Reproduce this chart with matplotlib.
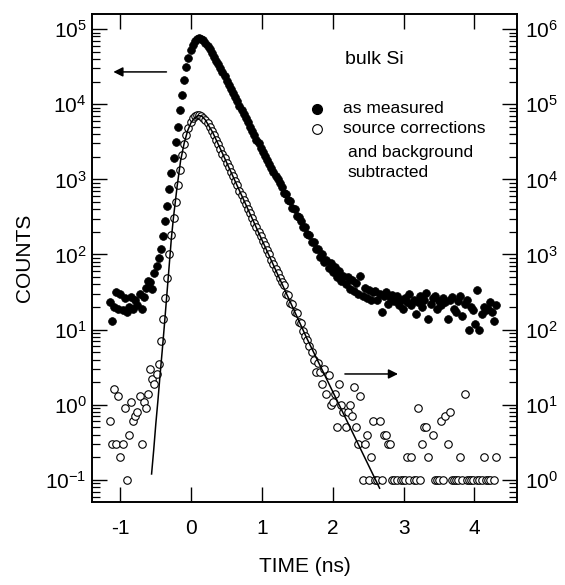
import numpy as np
import matplotlib
matplotlib.use('Agg')
import matplotlib.pyplot as plt

plt.rcParams['font.family'] = ['Liberation Sans', 'DejaVu Sans']
plt.rcParams['mathtext.fontset'] = 'custom'
plt.rcParams['mathtext.rm'] = 'Liberation Sans'

# time channels (ns), first channel and width
t_start = -1.15
t_step = 0.03

# "as measured" counts (left axis)
measured = [
    23, 13, 20, 32, 19, 30, 18, 26, 17, 20, 27, 19, 25, 21, 30, 19, 27, 36, 45, 43,
    35, 56, 71, 89, 120, 178, 282, 447, 741, 1200, 1905, 3162, 5012, 8318, 13180,
    20890, 30900, 41690, 52480, 61660, 69180, 74130, 75860, 74130, 70790, 66070,
    60260, 53700, 47860, 42660, 38020, 33880, 30200, 26920, 23440, 20420, 18200,
    15850, 14130, 12300, 10960, 9550, 8318, 7413, 6457, 5754, 5012, 4365, 3890,
    3388, 3020, 2630, 2344, 2042, 1820, 1622, 1413, 1259, 1122, 1000, 891, 794,
    661, 631, 525, 513, 417, 398, 324, 316, 275, 229, 229, 186, 182, 145, 148,
    117, 120, 93, 100, 79, 85, 66, 76, 58, 68, 50, 60, 44, 52, 40, 50, 35, 46,
    33, 42, 30, 52, 28, 36, 26, 34, 25, 32,
    33, 25, 30, 17, 28, 32, 22, 27, 29, 24, 28, 21, 25, 19, 26, 23, 30, 21, 25,
    16, 23, 28, 20, 25, 31, 14, 22, 26, 28, 19, 24, 21, 26, 23, 14, 25, 27, 19,
    17, 24, 28, 15, 22, 25, 10, 20, 18, 12, 34, 10, 16, 20, 18, 19, 23, 17, 13, 21,
]

# source corrections and background subtracted (right axis), 0 = not shown
corrected = [
    6, 3, 16, 3, 13, 2, 3, 9, 1, 4, 11, 6, 7, 8, 13, 3, 11, 9, 14,
    30, 22, 19, 26, 35, 70, 140, 260, 480, 1000, 1800, 3020, 5012, 8318, 13180,
    20890, 29510, 38900, 48980, 57540, 64570, 69180, 70790, 70790, 69180, 66070,
    61660, 56230, 50120, 44160, 38900, 33880, 29510, 25700, 21880, 19050, 16600,
    14450, 12590, 10960, 9550, 8318, 7079, 6166, 5370, 4677, 4074, 3548, 3090,
    2630, 2291, 1995, 1738, 1514, 1318, 1148, 1000, 851, 741, 646, 562, 490, 427,
    390, 300, 290, 225, 220, 170, 165, 128, 122, 95, 83, 72, 60, 50,
    40, 27, 36, 27, 19, 30, 14, 25, 10, 11, 14, 5, 19, 10, 8, 5, 8, 10, 7, 17,
    5, 3, 13, 1, 3, 4, 1, 2, 6, 1, 1, 6, 1, 4, 4, 3, 3, 1, 1, 1, 0, 1, 1, 1,
    2, 1, 2, 1, 1, 9, 1, 3, 5, 5, 2, 0, 4, 1, 1, 1, 6, 1, 7, 3, 8, 1, 1, 1, 1,
    2, 1, 14, 1, 1, 1, 1, 0, 1, 1, 1, 2, 1, 1, 1, 0, 1, 2,
]

# fitted curve (right axis)
fit_time = [-0.56, -0.53, -0.50, -0.47, -0.44, -0.41, -0.38, -0.35, -0.32,
            -0.28, -0.25, -0.20, -0.15, -0.10, -0.05, 0.00, 0.05, 0.10, 0.15,
            0.20, 0.30, 0.40, 1.63, 2.66]
fit_counts = [1.2, 2.5, 5.6, 11.5, 25, 52, 112, 251, 562, 1660, 3162, 7943,
              17780, 30200, 44670, 57540, 66070, 70790, 69180, 61660, 42660,
              26920, 77.6, 0.776]

t_meas = t_start + t_step * np.arange(len(measured))
t_corr = t_start + t_step * np.arange(len(corrected))
corr = np.array(corrected, dtype=float)
corr[corr <= 0] = np.nan

fig = plt.figure(figsize=(5.65, 5.85), dpi=100)
ax = fig.add_axes([0.163, 0.142, 0.752, 0.834])
ax2 = ax.twinx()

ylo, yhi = 10 ** -1.293, 10 ** 5.2
ax.set_yscale('log')
ax2.set_yscale('log')
ax.set_ylim(ylo, yhi)
ax2.set_ylim(ylo * 10, yhi * 10)
ax.set_xlim(-1.4, 4.6)

ax.plot(t_meas, measured, 'o', color='black', ms=5.6, mec='black', mew=0.5)
ax2.plot(t_corr, corr, 'o', mfc='white', mec='black', ms=5.4, mew=0.8)
ax2.plot(fit_time, fit_counts, '-', color='black', lw=1.1)

ax.set_xticks([-1, 0, 1, 2, 3, 4])
ax.set_xticklabels(['-1', '0', '1', '2', '3', '4'])
ax.tick_params(axis='x', which='major', direction='in', length=11, width=1,
               top=True, labelsize=15, pad=12)
ax.tick_params(axis='y', which='major', direction='in', length=11, width=1,
               right=False, labelsize=15, pad=4)
ax.tick_params(axis='y', which='minor', direction='in', length=5.5, width=0.9,
               right=False)
ax2.tick_params(axis='y', which='major', direction='in', length=11, width=1,
                left=False, labelsize=15, pad=6)
ax2.tick_params(axis='y', which='minor', direction='in', length=5.5, width=0.9,
                left=False)
for a in (ax, ax2):
    for s in a.spines.values():
        s.set_linewidth(1.2)

ax.set_xlabel('TIME (ns)', fontsize=15, labelpad=14)
ax.set_ylabel('COUNTS', fontsize=15, labelpad=8)

# axis arrows
ax.annotate('', xy=(-1.10, 26900), xytext=(-0.35, 26900),
            arrowprops=dict(arrowstyle='-|>', color='black', lw=1.1,
                            mutation_scale=14, shrinkA=0, shrinkB=0))
ax.annotate('', xy=(2.92, 2.57), xytext=(2.17, 2.57),
            arrowprops=dict(arrowstyle='-|>', color='black', lw=1.1,
                            mutation_scale=14, shrinkA=0, shrinkB=0))

# legend block
ax.text(0.595, 0.906, 'bulk Si', transform=ax.transAxes, fontsize=14,
        va='center', ha='left')
ax.plot([0.53], [0.806], 'o', color='black', ms=7, transform=ax.transAxes,
        clip_on=False)
ax.plot([0.53], [0.765], 'o', mfc='white', mec='black', ms=7, mew=0.8,
        transform=ax.transAxes, clip_on=False)
ax.text(0.59, 0.806, 'as measured', transform=ax.transAxes, fontsize=12.5,
        va='center', ha='left')
ax.text(0.59, 0.765, 'source corrections', transform=ax.transAxes,
        fontsize=12.5, va='center', ha='left')
ax.text(0.602, 0.716, 'and background', transform=ax.transAxes,
        fontsize=12.5, va='center', ha='left')
ax.text(0.602, 0.675, 'subtracted', transform=ax.transAxes,
        fontsize=12.5, va='center', ha='left')

fig.savefig('out.png', dpi=100)
